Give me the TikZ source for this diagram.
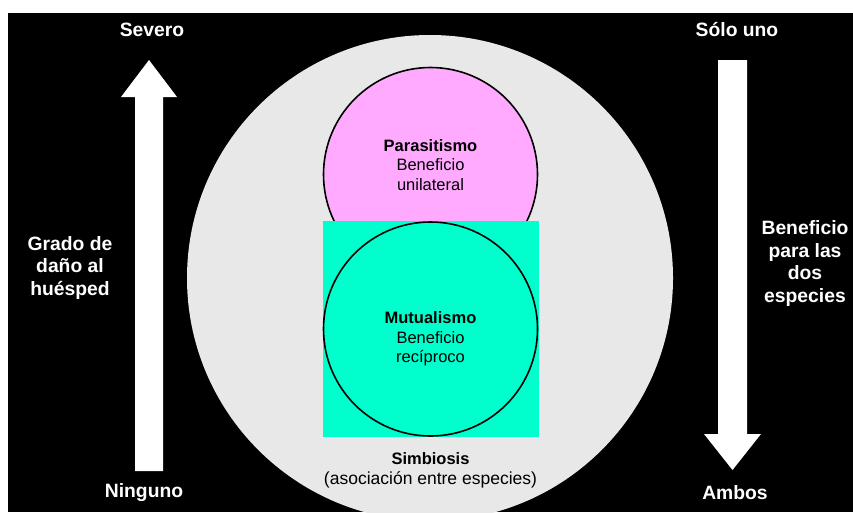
\documentclass[tikz,border=0pt]{standalone}
\usepackage{fontspec}
\setmainfont{Liberation Sans}
\definecolor{bgray}{HTML}{E8E8E8}
\definecolor{ppink}{HTML}{FFAAFF}
\definecolor{mcyan}{HTML}{00FFCC}
\begin{document}
\begin{tikzpicture}[x=1pt,y=-1pt,
  outer/.style={text=white,font=\fontsize{19.3}{22.5}\selectfont\bfseries,align=center,inner sep=0pt},
  inner/.style={text=black,font=\fontsize{16.5}{19.5}\selectfont,align=center,inner sep=0pt},
  bigarrow/.style={fill=white,draw=none},
  ring/.style={draw=black,line width=1.6pt}]
\useasboundingbox (0,0) rectangle (853,512);
\fill[white] (0,0) rectangle (853,512);
\fill[black] (8,13) rectangle (853,512);
% big gray circle
\fill[bgray] (430,278) circle[radius=243];
% parasitism circle
\filldraw[fill=ppink,ring] (430.5,174.5) circle[radius=107];
% mutualism square and circle
\fill[mcyan] (323,221) rectangle (539,437);
\draw[ring] (430.5,329) circle[radius=107];
% texts inside
\node[inner] (par) at (430.5,165) {\textbf{Parasitismo}\\Beneficio\\unilateral};
\node[inner] (mut) at (430.5,339) {\textbf{Mutualismo}\\Beneficio\\recíproco};
\node[inner] (sim) at (430.5,470.5) {\textbf{Simbiosis}\\{\fontsize{17.5}{19.5}\selectfont(asociación entre especies)}};
% left arrow (up)
\fill[bigarrow] (135,471) -- (135,97) -- (121,97) -- (149,60) -- (177,97) -- (163,97) -- (163,471) -- cycle;
% right arrow (down)
\fill[bigarrow] (718,60) -- (718,434) -- (704,434) -- (732.5,470) -- (761,434) -- (747,434) -- (747,60) -- cycle;
% outer labels
\node[outer] (sev) at (152,30) {Severo};
\node[outer] (sol) at (737,30) {Sólo uno};
\node[outer] (nin) at (144,493) {Ninguno};
\node[outer] (amb) at (735,493) {Ambos};
\node[outer] (gra) at (70,268) {Grado de\\daño al\\huésped};
\node[outer] (ben) at (805,263.5) {Beneficio\\para las\\dos\\especies};
\end{tikzpicture}
\end{document}
